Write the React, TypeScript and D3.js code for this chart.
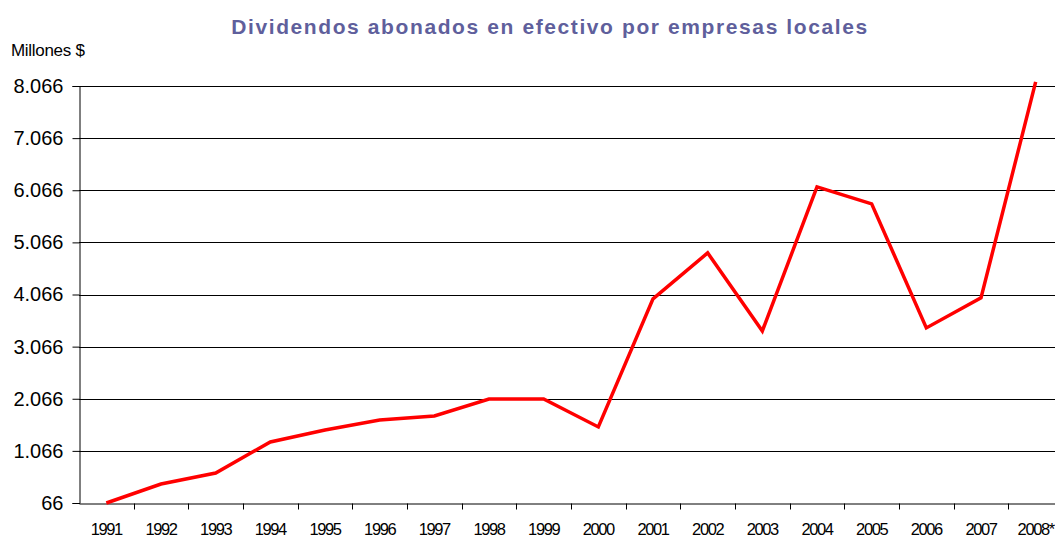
import React, { useEffect, useRef } from "react";
import * as d3 from "d3";

const years = ["1991", "1992", "1993", "1994", "1995", "1996", "1997", "1998", "1999", "2000", "2001", "2002", "2003", "2004", "2005", "2006", "2007", "2008*"];
const dividends = [66, 430, 642, 1237, 1467, 1659, 1736, 2062, 2062, 1525, 3982, 4864, 3367, 6131, 5805, 3425, 4001, 8146];
const yTicks = [66, 1066, 2066, 3066, 4066, 5066, 6066, 7066, 8066];

const width = 1055;
const height = 538;
// the plot area runs a little past the right edge of the picture
const margin = { top: 86, right: -8, bottom: 35, left: 79 };

const fmt = (v: number) => d3.format(",")(v).replace(/,/g, ".");

export default function App() {
  const svgRef = useRef<SVGSVGElement>(null);

  useEffect(() => {
    const svg = d3.select(svgRef.current);
    svg.selectAll("*").remove();

    const x = d3.scaleBand().domain(years).range([margin.left, width - margin.right]);
    const y = d3.scaleLinear().domain([66, 8066]).range([height - margin.bottom, margin.top]);

    // gridlines
    svg.append("g")
      .selectAll("line")
      .data(yTicks.slice(1))
      .join("line")
      .attr("x1", margin.left)
      .attr("x2", width)
      .attr("y1", (d) => Math.round(y(d)) + 0.5)
      .attr("y2", (d) => Math.round(y(d)) + 0.5)
      .attr("stroke", "#000")
      .attr("stroke-width", 1);

    // y axis
    const yAxis = svg.append("g")
      .attr("transform", `translate(${margin.left + 0.5},0)`)
      .call(d3.axisLeft(y).tickValues(yTicks).tickSize(7).tickPadding(9).tickFormat((d) => fmt(d as number)));
    yAxis.select(".domain").attr("stroke", "#000");
    yAxis.selectAll("text")
      .attr("font-family", "Liberation Sans, Arial, sans-serif")
      .attr("font-size", 20)
      .attr("fill", "#000");

    // x axis
    const xAxis = svg.append("g")
      .attr("transform", `translate(0,${Math.round(y(66)) + 0.5})`)
      .call(d3.axisBottom(x).tickSize(0).tickPadding(20).tickSizeOuter(0));
    xAxis.select(".domain").attr("stroke", "#000");
    xAxis.selectAll("text")
      .attr("font-family", "Liberation Sans, Arial, sans-serif")
      .attr("font-size", 16.5)
      .attr("letter-spacing", "-1.4px")
      .attr("fill", "#000");
    xAxis.append("g")
      .selectAll("line")
      .data(years.slice(1))
      .join("line")
      .attr("x1", (d) => Math.round(x(d)!) + 0.5)
      .attr("x2", (d) => Math.round(x(d)!) + 0.5)
      .attr("y1", 0)
      .attr("y2", 6)
      .attr("stroke", "#000");

    // line
    const line = d3.line<number>()
      .x((_, i) => x(years[i])! + x.bandwidth() / 2)
      .y((d) => y(d));
    svg.append("path")
      .datum(dividends)
      .attr("fill", "none")
      .attr("stroke", "#ff0000")
      .attr("stroke-width", 3.5)
      .attr("stroke-linejoin", "miter")
      .attr("d", line);

    svg.append("text")
      .attr("x", 11)
      .attr("y", 56)
      .attr("font-family", "Liberation Sans, Arial, sans-serif")
      .attr("font-size", 17)
      .attr("letter-spacing", "-0.3px")
      .text("Millones $");

    svg.append("text")
      .attr("x", 550)
      .attr("y", 34)
      .attr("text-anchor", "middle")
      .attr("font-family", "Liberation Sans, Arial, sans-serif")
      .attr("font-size", 21)
      .attr("font-weight", "bold")
      .attr("letter-spacing", "1.6px")
      .attr("fill", "#5f5f9c")
      .text("Dividendos abonados en efectivo por empresas locales");
  }, []);

  return (
    <svg
      ref={svgRef}
      width={width}
      height={height}
      style={{ position: "absolute", left: 0, top: 0, background: "#fff" }}
    />
  );
}
